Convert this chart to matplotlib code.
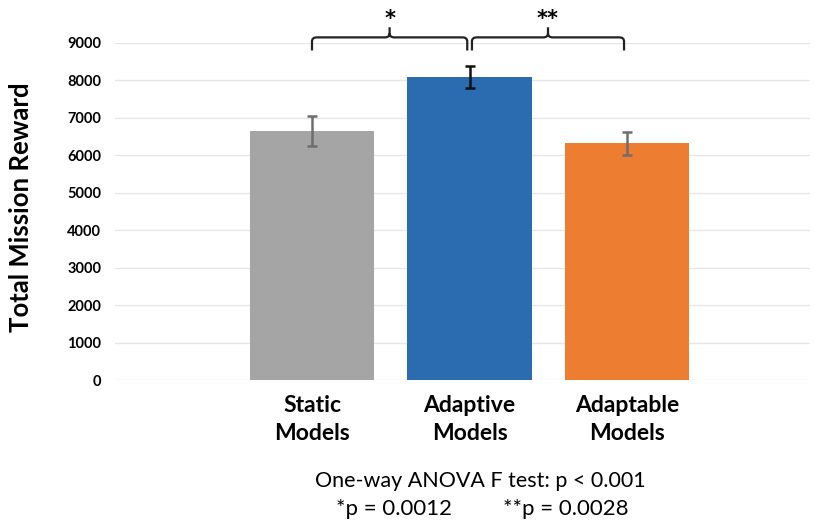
import matplotlib
matplotlib.use("Agg")
from matplotlib import pyplot as plt
from matplotlib.path import Path
from matplotlib.patches import PathPatch

plt.rcParams['font.family'] = ['Lato', 'DejaVu Sans']

# data
categories = ["Static\nModels", "Adaptive\nModels", "Adaptable\nModels"]
means = [6650, 8100, 6320]
errors = [400, 290, 300]
bar_colors = ["#A5A5A5", "#2B6CB0", "#ED7D31"]
err_colors = ["#6E6E6E", "#111111", "#6E6E6E"]
yticks = [0, 1000, 2000, 3000, 4000, 5000, 6000, 7000, 8000, 9000]
stars = ["*", "**"]
pairs = [(0, 1), (1, 2)]

fig = plt.figure(figsize=(8.19, 5.26), dpi=100)
ax = fig.add_axes([115/819, (526-380)/526, (810-115)/819, (380-43)/526])

x = list(range(len(categories)))
ax.bar(x, means, width=0.79, color=bar_colors, zorder=2)
for i in x:
    ax.errorbar(i, means[i], yerr=errors[i], fmt='none', ecolor=err_colors[i],
                elinewidth=1.8, capsize=3.5, capthick=1.8, zorder=3)

ax.set_xlim(-1.25, 3.16)
ax.set_ylim(0, 9000)
ax.set_yticks(yticks)
ax.set_yticklabels([str(v) for v in yticks], fontsize=10.5, fontweight='bold')
ax.set_xticks(x)
ax.set_xticklabels(categories, fontsize=16.5, fontweight='bold', linespacing=1.4)
ax.tick_params(length=0, pad=10)
ax.tick_params(axis='x', pad=11)
ax.yaxis.grid(True, color="#E6E6E6", linewidth=1, zorder=0)
for s in ax.spines.values():
    s.set_visible(False)

# y label placed by hand, like the reference
fig.text(21/819, 1 - 207/526, "Total Mission Reward", rotation=90,
         ha='center', va='center', fontsize=18.5, fontweight='bold')


def brace(ax, xa, xb, yb, yl, yt, rx=0.03, ry=110):
    xm = (xa + xb) / 2
    verts = [(xa, yb), (xa, yl - ry), (xa, yl), (xa + rx, yl),
             (xm - rx, yl), (xm, yl), (xm, yl + ry), (xm, yt),
             (xm, yl + ry), (xm, yl), (xm + rx, yl),
             (xb - rx, yl), (xb, yl), (xb, yl - ry), (xb, yb)]
    codes = [Path.MOVETO, Path.LINETO, Path.CURVE3, Path.CURVE3,
             Path.LINETO, Path.CURVE3, Path.CURVE3, Path.LINETO,
             Path.MOVETO, Path.CURVE3, Path.CURVE3,
             Path.LINETO, Path.CURVE3, Path.CURVE3, Path.LINETO]
    ax.add_patch(PathPatch(Path(verts, codes), fill=False, lw=1.6,
                           edgecolor="#222222", clip_on=False, zorder=4))
    return xm


for (a, b), st in zip(pairs, stars):
    xa = a + (0.0 if a == 0 else 0.015)
    xb = b - (0.015 if b == 1 else 0.02)
    xm = brace(ax, xa, xb, 8800, 9150, 9420)
    ax.text(xm, 9480, st, ha='center', va='baseline', fontsize=15,
            fontweight='bold', family='DejaVu Sans', clip_on=False)

fig.text(480/819, 1 - 481/526, "One-way ANOVA F test: p < 0.001",
         ha='center', va='center', fontsize=15.5)
fig.text(336/819, 1 - 509/526, "*p = 0.0012", ha='left', va='center', fontsize=16)
fig.text(503/819, 1 - 509/526, "**p = 0.0028", ha='left', va='center', fontsize=16)

fig.savefig("out.png", dpi=100)
